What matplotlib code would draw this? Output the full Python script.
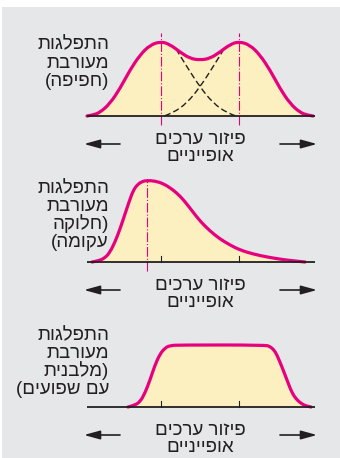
import matplotlib
matplotlib.use('Agg')
import matplotlib.pyplot as plt
from matplotlib.path import Path
from matplotlib.patches import PathPatch, Rectangle

plt.rcParams['font.family'] = ['Liberation Sans', 'DejaVu Sans']
plt.rcParams['lines.scale_dashes'] = False

# --- data (x: spread around the centre, h: height) ---
MIX_X = [-113, -107, -100, -90, -80, -70, -60, -50, -39, -30, -20, -10, 0,
         10, 20, 30, 39, 50, 60, 70, 80, 90, 100, 107, 113]
MIX_H = [0, 1, 3.5, 12.5, 27.5, 46, 61, 71, 74.5, 71.5, 64, 57.5, 56,
         57.5, 64, 71.5, 74.5, 71, 61, 46, 27.5, 12.5, 3.5, 1, 0]
COMP_A_X = [-24, -13, 0, 13, 27, 36]
COMP_A_H = [67, 49, 29, 13, 3, 0]
COMP_B_X = [24, 13, 0, -13, -27, -36]
COMP_B_H = [67, 49, 29, 13, 3, 0]
MIX_PEAKS = [-39, 39]

SKEW_X = [-108, -102, -95, -90, -85, -80, -75, -71, -67, -63, -58, -53, -45, -37,
          -28, -20, -14, -7, 0, 10, 20, 30, 40, 53, 67, 82, 95, 105]
SKEW_H = [0, 1, 4, 10, 20, 33, 48, 60, 71, 77, 80.5, 81.5, 81, 78.5,
          73, 66, 59, 50, 41, 31, 23, 17, 12, 8, 5, 2.5, 1, 0]
SKEW_PEAK = -53

FLAT_X = [-72, -66, -60, -55, -50, -45, -40, -35, -30, -20, 65, 70, 74, 77,
          82, 87, 92, 97, 102, 106, 111]
FLAT_H = [0, 1.5, 5, 14, 27, 42, 53, 59, 61.5, 62, 62, 60.5, 57, 52,
          40, 27, 14, 7, 3, 1, 0]

TICKS = [-39, 39]

LABEL_MIX = ['התפלגות', 'מעורבת', '(חפיפה)']
LABEL_SKEW = ['התפלגות', 'מעורבת', '(חלוקה', 'עקומה)']
LABEL_FLAT = ['התפלגות', 'מעורבת', '(מלבנית', 'עם שפועים)']
AXIS_TEXT = ['פיזור ערכים', 'אופייניים']

BG = '#e6e7e8'
FILL = '#fdf0c0'
MAGENTA = '#e6007e'
INK = '#231f20'

W, H = 340, 458


def rtl(s):
    # matplotlib lays text out left to right, so flip Hebrew by hand
    return s[::-1].translate(str.maketrans('()', ')('))


def smooth_path(xs, hs):
    # quadratic B-spline through the read points
    pts = list(zip(xs, hs))
    verts = [pts[0]]
    codes = [Path.MOVETO]
    for i in range(1, len(pts) - 2):
        mid = ((pts[i][0] + pts[i + 1][0]) / 2, (pts[i][1] + pts[i + 1][1]) / 2)
        verts += [pts[i], mid]
        codes += [Path.CURVE3, Path.CURVE3]
    verts += [pts[-2], pts[-1]]
    codes += [Path.CURVE3, Path.CURVE3]
    return verts, codes


def draw_curve(ax, xs, hs):
    verts, codes = smooth_path(xs, hs)
    fill = Path(verts + [verts[0]], codes + [Path.CLOSEPOLY])
    ax.add_patch(PathPatch(fill, facecolor=FILL, edgecolor='none', zorder=1))
    ax.add_patch(PathPatch(Path(verts, codes), facecolor='none', edgecolor=MAGENTA,
                           lw=2.3, capstyle='round', joinstyle='round', zorder=4))


def draw_dashed(ax, xs, hs):
    verts, codes = smooth_path(xs, hs)
    ax.add_patch(PathPatch(Path(verts, codes), facecolor='none', edgecolor=INK,
                           lw=1.0, linestyle=(0, (4.5, 2.3)), zorder=3))


def peak_line(ax, x):
    ax.plot([x, x], [-9, 83], color=MAGENTA, lw=0.8,
            linestyle=(0, (7, 1.4, 0.8, 1.4)), zorder=2)


def make_panel(baseline, labels, label_top):
    ax = fig.add_axes([0, 1 - (baseline + 50) / H, 1, 150 / H])
    ax.set_xlim(-200, 140)
    ax.set_ylim(-50, 100)
    ax.axis('off')
    ax.plot([-113, 115], [0, 0], color=INK, lw=1.3, zorder=5, solid_capstyle='butt')
    for i, s in enumerate(labels):
        ax.text(-91, label_top - 18 * i, rtl(s), ha='right', va='baseline',
                fontsize=13.5, color=INK)
    ax.text(0, -28, rtl(AXIS_TEXT[0]), ha='center', va='baseline', fontsize=13.5, color=INK)
    ax.text(0, -45, rtl(AXIS_TEXT[1]), ha='center', va='baseline', fontsize=13.5, color=INK)
    arrow = dict(arrowstyle='-|>,head_length=0.8,head_width=0.22', lw=1.2, color=INK,
                 mutation_scale=12, shrinkA=0, shrinkB=0)
    ax.annotate('', xy=(-116, -28), xytext=(-80, -28), arrowprops=arrow)
    ax.annotate('', xy=(117, -28), xytext=(80, -28), arrowprops=arrow)
    return ax


fig = plt.figure(figsize=(W / 100, H / 100), dpi=100, facecolor='white')
fig.patches.append(Rectangle((2 / W, 0), 1, 1 - 7 / H, transform=fig.transFigure,
                             facecolor=BG, edgecolor='none', zorder=-10))

ax1 = make_panel(116, LABEL_MIX, 66.5)
draw_curve(ax1, MIX_X, MIX_H)
draw_dashed(ax1, COMP_A_X, COMP_A_H)
draw_dashed(ax1, COMP_B_X, COMP_B_H)
for p in MIX_PEAKS:
    peak_line(ax1, p)

ax2 = make_panel(262, LABEL_SKEW, 69)
draw_curve(ax2, SKEW_X, SKEW_H)
peak_line(ax2, SKEW_PEAK)
for t in TICKS:
    ax2.plot([t, t], [0, 6], color=INK, lw=0.8, zorder=5)

ax3 = make_panel(407, LABEL_FLAT, 67)
draw_curve(ax3, FLAT_X, FLAT_H)
for t in TICKS:
    ax3.plot([t, t], [0, 6], color=INK, lw=0.8, zorder=5)

fig.savefig('out.png', dpi=100, facecolor='white')
